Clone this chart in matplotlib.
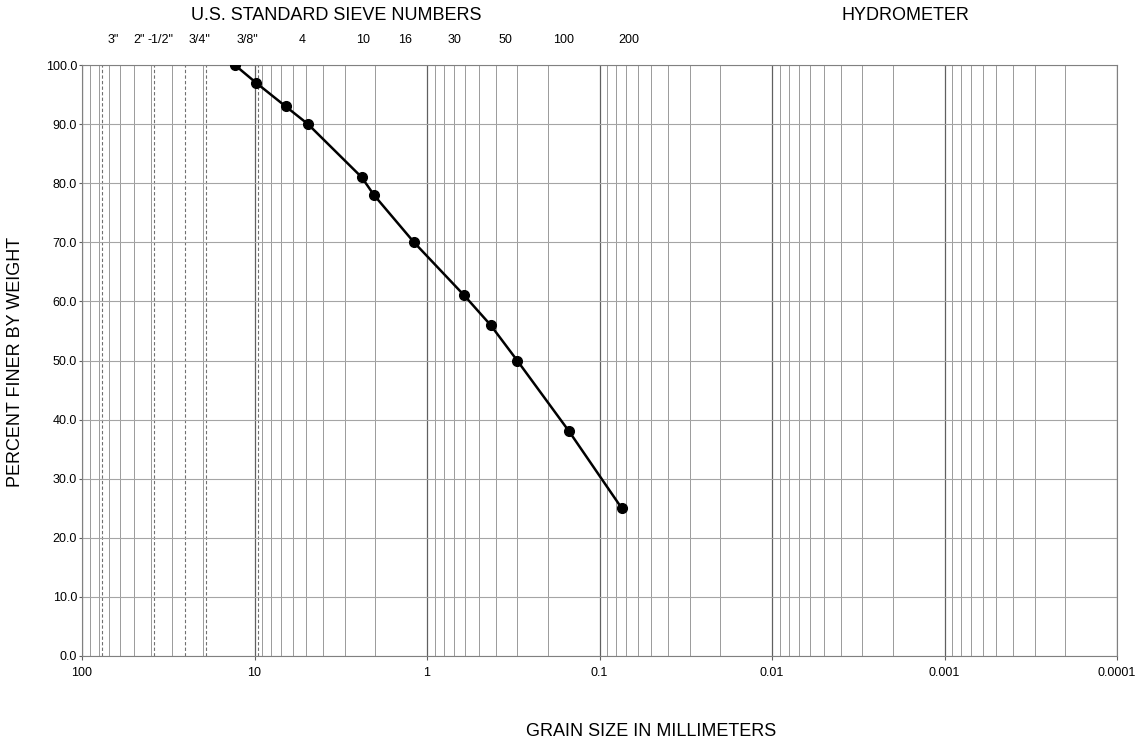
import numpy as np
import matplotlib
matplotlib.use("Agg")
import matplotlib.pyplot as plt
from matplotlib.ticker import FixedLocator, FuncFormatter, NullFormatter

plt.rcParams['font.family'] = ['Liberation Sans', 'DejaVu Sans']

# grain size distribution
grain_mm = [13.0, 9.8, 6.6, 4.9, 2.39, 2.03, 1.19, 0.608, 0.428, 0.30, 0.150, 0.0743]
pct_finer = [100, 97, 93, 90, 81, 78, 70, 61, 56, 50, 38, 25]

# sieve labels along the top and where they sit (mm)
sieve_labels = ['3"', '2"', '-1/2"', '3/4"', '3/8"', '4', '10', '16', '30', '50', '100', '200']
sieve_label_mm = [66, 46.7, 35.3, 20.7, 11.0, 5.3, 2.35, 1.34, 0.69, 0.35, 0.161, 0.068]

# dashed lines at coarse sieve openings (mm)
dashed_mm = [76.2, 38.1, 25.4, 19.05, 9.525]

decades = [100, 10, 1, 0.1, 0.01, 0.001, 0.0001]
y_ticks = np.arange(0, 101, 10)

fig = plt.figure(figsize=(11.43, 7.42), dpi=100)
ax = fig.add_axes([82 / 1143, 1 - 656 / 742, (1117 - 82) / 1143, (656 - 65) / 742])

ax.set_xscale('log')
ax.set_xlim(100, 0.0001)
ax.set_ylim(0, 100)

# grid
minor = [m * d for d in decades[1:] for m in range(2, 10)]
for v in minor:
    ax.axvline(v, color='#9a9a9a', lw=0.7, zorder=1)
for v in decades:
    ax.axvline(v, color='#606060', lw=0.9, zorder=1)
for v in dashed_mm:
    ax.axvline(v, color='#707070', lw=0.8, ls=(0, (3, 2)), zorder=1)
for v in y_ticks:
    ax.axhline(v, color='#a5a5a5', lw=0.8, zorder=1)

ax.plot(grain_mm, pct_finer, color='black', lw=1.8, marker='o', ms=7, zorder=3)

ax.xaxis.set_major_locator(FixedLocator(decades))
ax.xaxis.set_major_formatter(FuncFormatter(lambda v, p: f'{v:g}'))
ax.xaxis.set_minor_formatter(NullFormatter())
ax.tick_params(axis='x', which='minor', length=0)
ax.set_yticks(y_ticks)
ax.yaxis.set_major_formatter(FuncFormatter(lambda v, p: f'{v:.1f}'))
ax.tick_params(axis='x', which='major', length=3, width=0.8, color='#606060',
               labelsize=9, pad=5)
ax.tick_params(axis='y', which='major', length=2, width=0.8, color='#606060',
               labelsize=9, pad=1.5)

for s in ax.spines.values():
    s.set_color('#808080')
    s.set_linewidth(0.8)

trans = ax.get_xaxis_transform()
for lab, x in zip(sieve_labels, sieve_label_mm):
    ax.text(x, 1.042, lab, transform=trans, ha='center', va='center', fontsize=9)

fig.text(336 / 1143, 1 - 15 / 742, 'U.S. STANDARD SIEVE NUMBERS', ha='center', va='center', fontsize=13)
fig.text(905 / 1143, 1 - 15 / 742, 'HYDROMETER', ha='center', va='center', fontsize=13)
fig.text(651 / 1143, 1 - 731 / 742, 'GRAIN SIZE IN MILLIMETERS', ha='center', va='center', fontsize=13)
fig.text(16 / 1143, 1 - 362 / 742, 'PERCENT FINER BY WEIGHT', ha='center', va='center',
         rotation=90, fontsize=13)

fig.savefig('out.png', dpi=100)
